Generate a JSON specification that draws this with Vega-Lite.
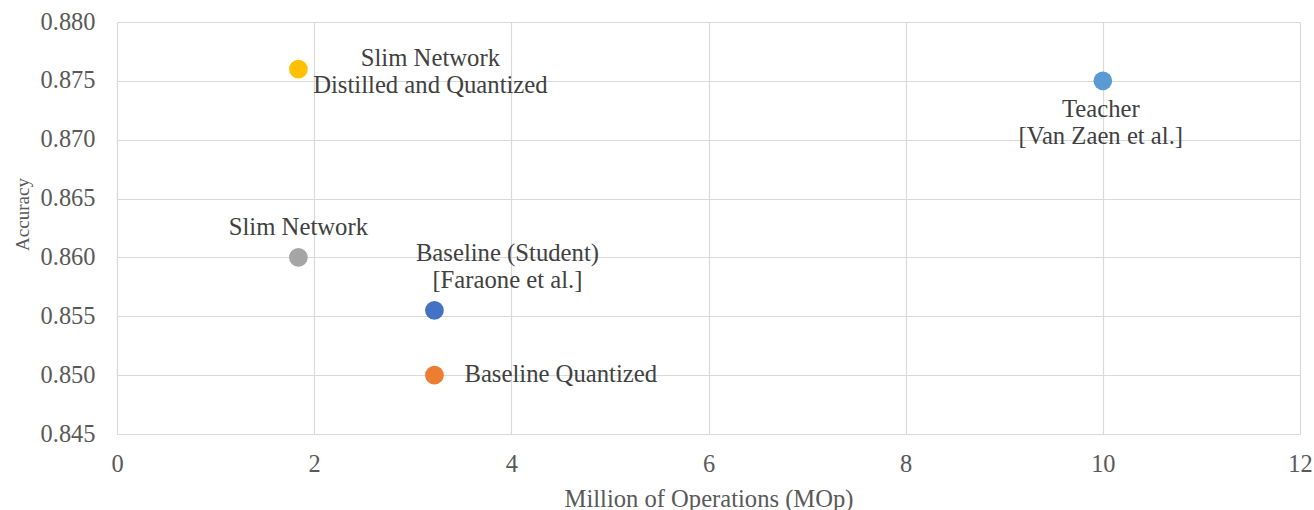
{
  "$schema": "https://vega.github.io/schema/vega-lite/v6.json",
  "width": 1183,
  "height": 412,
  "autosize": "none",
  "padding": {"left": 117, "top": 22, "right": 14, "bottom": 76},
  "background": "white",
  "config": {
    "view": {"stroke": null},
    "font": "'Liberation Serif', 'Times New Roman', 'DejaVu Serif', serif",
    "axis": {
      "grid": true,
      "gridColor": "#d9d9d9",
      "gridWidth": 1.2,
      "domain": false,
      "ticks": false,
      "tickSize": 0,
      "labelFlush": false,
      "labelOverlap": false,
      "labelFont": "'Liberation Serif', 'Times New Roman', 'DejaVu Serif', serif",
      "labelFontSize": 24.4,
      "labelColor": "#595959",
      "titleFont": "'Liberation Serif', 'Times New Roman', 'DejaVu Serif', serif",
      "titleColor": "#595959",
      "titleFontWeight": "normal"
    }
  },
  "data": {
    "values": [
      {"name": "Slim Network Distilled and Quantized", "label": "Slim Network\nDistilled and Quantized", "mop": 1.84, "acc": 0.876},
      {"name": "Teacher", "label": "Teacher\n[Van Zaen et al.]", "mop": 10.0, "acc": 0.875},
      {"name": "Slim Network", "label": "Slim Network", "mop": 1.84, "acc": 0.860},
      {"name": "Baseline (Student)", "label": "Baseline (Student)\n[Faraone et al.]", "mop": 3.22, "acc": 0.8555},
      {"name": "Baseline Quantized", "label": "Baseline Quantized", "mop": 3.22, "acc": 0.850}
    ]
  },
  "encoding": {
    "x": {
      "field": "mop",
      "type": "quantitative",
      "scale": {"domain": [0, 12], "nice": false, "zero": false},
      "axis": {
        "values": [0, 2, 4, 6, 8, 10, 12],
        "title": "Million of Operations (MOp)",
        "labelPadding": 18,
        "titleFontSize": 24.6,
        "titleY": 72,
        "titleBaseline": "alphabetic"
      }
    },
    "y": {
      "field": "acc",
      "type": "quantitative",
      "scale": {"domain": [0.845, 0.88], "nice": false, "zero": false},
      "axis": {
        "values": [0.845, 0.85, 0.855, 0.86, 0.865, 0.87, 0.875, 0.88],
        "format": ".3f",
        "title": "Accuracy",
        "labelPadding": 22,
        "titleFontSize": 19,
        "titleAngle": -90,
        "titleX": -89,
        "titleY": 192,
        "titleAlign": "center",
        "titleBaseline": "alphabetic"
      }
    }
  },
  "layer": [
    {
      "mark": {"type": "circle", "size": 350, "opacity": 1},
      "encoding": {
        "color": {
          "field": "name",
          "type": "nominal",
          "scale": {
            "domain": ["Slim Network Distilled and Quantized", "Teacher", "Slim Network", "Baseline (Student)", "Baseline Quantized"],
            "range": ["#FFC000", "#5B9BD5", "#A5A5A5", "#4472C4", "#ED7D31"]
          },
          "legend": null
        }
      }
    },
    {
      "transform": [{"filter": "datum.name === 'Slim Network Distilled and Quantized'"}],
      "mark": {"type": "text", "font": "'Liberation Serif', 'Times New Roman', 'DejaVu Serif', serif", "fontSize": 24.7, "color": "#404040", "align": "center", "baseline": "alphabetic", "lineBreak": "\n", "lineHeight": 27, "dx": 132, "dy": -3},
      "encoding": {"text": {"field": "label"}}
    },
    {
      "transform": [{"filter": "datum.name === 'Teacher'"}],
      "mark": {"type": "text", "font": "'Liberation Serif', 'Times New Roman', 'DejaVu Serif', serif", "fontSize": 24.7, "color": "#404040", "align": "center", "baseline": "alphabetic", "lineBreak": "\n", "lineHeight": 27, "dx": -2, "dy": 36},
      "encoding": {"text": {"field": "label"}}
    },
    {
      "transform": [{"filter": "datum.name === 'Slim Network'"}],
      "mark": {"type": "text", "font": "'Liberation Serif', 'Times New Roman', 'DejaVu Serif', serif", "fontSize": 24.7, "color": "#404040", "align": "center", "baseline": "alphabetic", "lineBreak": "\n", "lineHeight": 27, "dx": 0, "dy": -22},
      "encoding": {"text": {"field": "label"}}
    },
    {
      "transform": [{"filter": "datum.name === 'Baseline (Student)'"}],
      "mark": {"type": "text", "font": "'Liberation Serif', 'Times New Roman', 'DejaVu Serif', serif", "fontSize": 24.7, "color": "#404040", "align": "center", "baseline": "alphabetic", "lineBreak": "\n", "lineHeight": 27, "dx": 73, "dy": -49},
      "encoding": {"text": {"field": "label"}}
    },
    {
      "transform": [{"filter": "datum.name === 'Baseline Quantized'"}],
      "mark": {"type": "text", "font": "'Liberation Serif', 'Times New Roman', 'DejaVu Serif', serif", "fontSize": 24.7, "color": "#404040", "align": "left", "baseline": "alphabetic", "lineBreak": "\n", "lineHeight": 27, "dx": 30, "dy": 7},
      "encoding": {"text": {"field": "label"}}
    }
  ]
}
